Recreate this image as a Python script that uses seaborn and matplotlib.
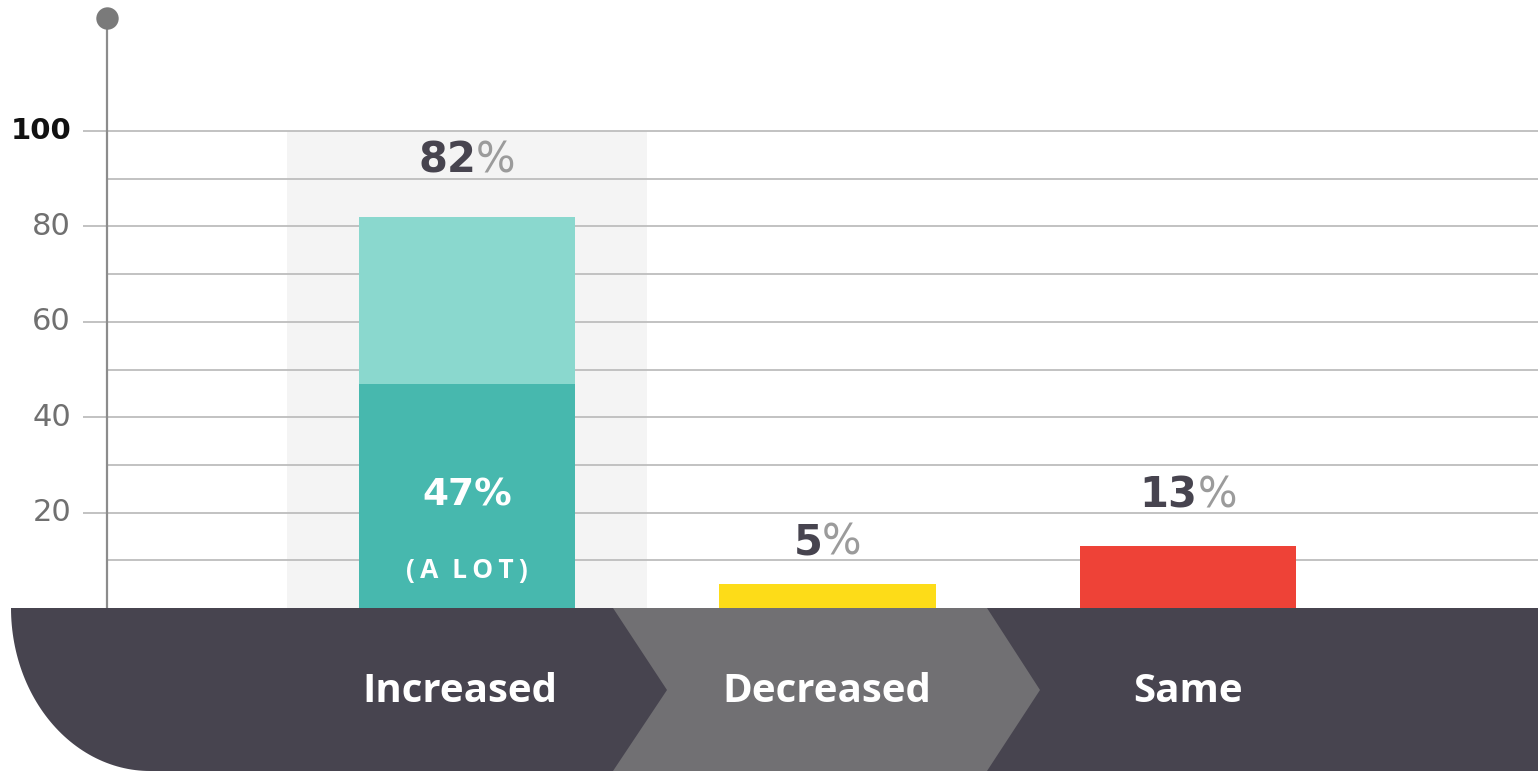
import numpy as np
import pandas as pd
import seaborn as sns
import matplotlib.pyplot as plt
from matplotlib.patches import Polygon

# --- Data ---
categories = ["Increased", "Decreased", "Same"]
totals = [82, 5, 13]
a_lot_value = 47
a_lot_label = "(A LOT)"
bar_colors = ["#8ad8ce", "#fddc18", "#ee4237"]
a_lot_color = "#47b8ae"
y_ticks = [20, 40, 60, 80, 100]
minor_grid = [10, 30, 50, 70, 90]
label_gap_px = [44, 30, 38]   # gap between bar top and value label baseline

DARK = "#47444f"
PCT_GRAY = "#9b9b9b"
WORD_FONT = ["Open Sans", "DejaVu Sans"]
NUM_FONT = ["DejaVu Sans"]

sns.set_theme(style="white")
plt.rcParams["font.family"] = WORD_FONT

W, H = 1538, 771
fig = plt.figure(figsize=(W / 100, H / 100), dpi=100)
fig.patch.set_facecolor("white")

# main axes spans whole figure, limits chosen so y=0 sits on the band top
ax = fig.add_axes([0, 0, 1, 1])
ax.set_facecolor("none")

x0_px, xstep_px = 467, 360.5
y0_px, ystep_px = 608, 4.77


def px_x(p):
    return (p - x0_px) / xstep_px


def px_y(p):
    return (y0_px - p) / ystep_px


# highlight behind the first category
ax.fill_between([px_x(287), px_x(647)], 0, 100, color="#f4f4f4", zorder=0, lw=0)

# grid
ax.hlines(y_ticks, px_x(83), px_x(W), color="#bdbdbd", lw=1.3, zorder=1)
ax.hlines(minor_grid, px_x(107), px_x(W), color="#bdbdbd", lw=1.3, zorder=1)

# bars
df = pd.DataFrame({"category": categories, "total": totals})
sns.barplot(data=df, x="category", y="total", hue="category", palette=bar_colors,
            order=categories, width=0.6, legend=False, saturation=1,
            ax=ax, zorder=2, linewidth=0)
df_lot = pd.DataFrame({"category": ["Increased"], "value": [a_lot_value]})
sns.barplot(data=df_lot, x="category", y="value", order=categories, color=a_lot_color,
            width=0.6, saturation=1, ax=ax, zorder=3, linewidth=0)

ax.set_xlim(px_x(0), px_x(W))
ax.set_ylim(px_y(H), px_y(0))
ax.axis("off")

# vertical axis with dot on top
ax.plot([px_x(107), px_x(107)], [0, px_y(18)], color="#8c8c8c", lw=1.6, zorder=4)
ax.scatter([px_x(107)], [px_y(18)], s=260, color="#7a7a7a", zorder=5, lw=0)

# y tick labels
for t in y_ticks:
    if t == 100:
        ax.text(px_x(71), t, str(t), ha="right", va="center", fontsize=21,
                fontweight="bold", color="#111111", family=NUM_FONT)
    else:
        ax.text(px_x(71), t, str(t), ha="right", va="center", fontsize=22,
                color="#707070", family=NUM_FONT)

renderer = fig.canvas.get_renderer()


def two_tone(x, y, num, size, num_color, pct_color):
    t1 = ax.text(x, y, num, ha="right", va="baseline", fontsize=size,
                 fontweight="bold", color=num_color, zorder=6, family=NUM_FONT)
    t2 = ax.text(x, y, "%", ha="left", va="baseline", fontsize=size,
                 color=pct_color, zorder=6, family=NUM_FONT)
    w1 = t1.get_window_extent(renderer).width
    w2 = t2.get_window_extent(renderer).width
    shift = (w1 - w2) / 2 / xstep_px
    t1.set_x(x + shift)
    t2.set_x(x + shift)


for i, v in enumerate(totals):
    two_tone(i, v + label_gap_px[i] / ystep_px, str(v), 30, DARK, PCT_GRAY)

ax.text(0, px_y(505), f"{a_lot_value}%", ha="center", va="baseline", fontsize=27,
        fontweight="bold", color="white", zorder=6, family=NUM_FONT)
# letter-spaced sub label
spaced = "  ".join("\u2009".join(w) for w in a_lot_label.split(" "))
ax.text(0, px_y(578), spaced, ha="center", va="baseline",
        fontsize=19, fontweight="bold", color="white", zorder=6)

# --- bottom band with chevrons ---
deco = fig.add_axes([0, 0, 1, 1])
deco.set_xlim(0, W)
deco.set_ylim(H, 0)
deco.axis("off")
deco.set_zorder(ax.get_zorder() + 1)

t = np.linspace(0, np.pi / 2, 60)
curve = np.column_stack([150 - 139 * np.cos(t), 608 + 163 * np.sin(t)])
band = np.vstack([curve, [[W, 771], [W, 608]]])
deco.add_patch(Polygon(band, closed=True, color=DARK, lw=0))
chev = [(613, 608), (987, 608), (1040, 690), (987, 771), (613, 771), (667, 690)]
deco.add_patch(Polygon(chev, closed=True, color="#717073", lw=0))

label_x = [460, 827, 1188]
for lx, name in zip(label_x, categories):
    deco.text(lx, 691, name, ha="center", va="center", fontsize=29,
              fontweight="bold", color="white")

fig.savefig("out.png", dpi=100, facecolor="white")
